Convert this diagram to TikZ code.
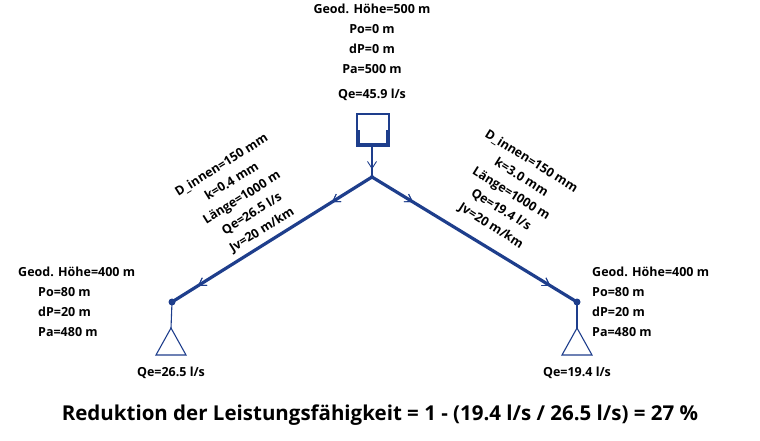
\documentclass[tikz,border=0pt]{standalone}
\usepackage{fontspec}
\setmainfont{Open Sans}
\usetikzlibrary{arrows.meta,decorations.markings}
\definecolor{pipe}{RGB}{30,62,140}
\begin{document}
\begin{tikzpicture}[x=1pt,y=-1pt,
  lbl/.style={font=\bfseries\fontsize{12.5}{20}\selectfont,align=left,inner sep=0pt},
  plbl/.style={font=\bfseries\fontsize{12.5}{19}\selectfont,align=center,inner sep=0pt},
  pline/.style={draw=pipe,line width=3.2pt},
  mid/.style={postaction={decorate},decoration={markings,
     mark=at position #1 with {\arrow[pipe,line width=0.9pt]{Straight Barb[open,length=7pt,width=9pt]}}}},
  dotn/.style={circle,fill=pipe,inner sep=0pt,minimum size=7pt},
  sink/.style={draw=pipe,line width=1.1pt}]
\useasboundingbox (0,0) rectangle (760,440);
% top text
\node[lbl,align=center,anchor=north] (top) at (372,4) {Geod. Höhe=500 m\\Po=0 m\\dP=0 m\\Pa=500 m};
\node[lbl,anchor=center] (qtop) at (372,95) {Qe=45.9 l/s};
% tank
\draw[pipe,line width=1.1pt] (357,114) rectangle (389,146);
\draw[pipe,line width=3.5pt] (358,130) -- (358,145) -- (388,145) -- (388,130);
\coordinate (tb) at (372,146);
\coordinate (apex) at (372,177);
\node[dotn,minimum size=4pt] (ap) at (apex) {};
\node[dotn] (L) at (172,302) {};
\node[dotn] (R) at (577,302) {};
\draw[pipe,line width=1.1pt,mid=0.75] (tb) -- (apex);
\draw[pline,mid=0.2,mid=0.87] (apex) -- (L.center);
\draw[pline,mid=0.2,mid=0.87] (apex) -- (R.center);
% sinks
\coordinate (lt) at (171,328);
\coordinate (rt) at (577,328);
\draw[sink] (L.center) -- (lt);
\draw[sink] (lt) -- (156,355) -- (186,355) -- cycle;
\draw[sink] (R.center) -- (rt);
\draw[sink] (rt) -- (562,355) -- (592,355) -- cycle;
\node[lbl] (ql) at (171,373) {Qe=26.5 l/s};
\node[lbl] (qr) at (577,373) {Qe=19.4 l/s};
% node texts
\node[lbl,anchor=north west] (tl) at (18,267) {Geod. Höhe=400 m\\\hspace*{20pt}Po=80 m\\\hspace*{20pt}dP=20 m\\\hspace*{20pt}Pa=480 m};
\node[lbl,anchor=north west] (tr) at (592,267) {Geod. Höhe=400 m\\Po=80 m\\dP=20 m\\Pa=480 m};
% pipe labels
\node[plbl,rotate=32] (pl) at (242,198) {D\_innen=150 mm\\k=0.4 mm\\Länge=1000 m\\Qe=26.5 l/s\\Jv=20 m/km};
\node[plbl,rotate=-32] (pr) at (511,194) {D\_innen=150 mm\\k=3.0 mm\\Länge=1000 m\\Qe=19.4 l/s\\Jv=20 m/km};
% bottom
\node[font=\bfseries\fontsize{20.5}{24}\selectfont,inner sep=0pt] (res) at (380,415) {Reduktion der Leistungsfähigkeit = 1 - (19.4 l/s / 26.5 l/s) = 27 \%};
\end{tikzpicture}
\end{document}
